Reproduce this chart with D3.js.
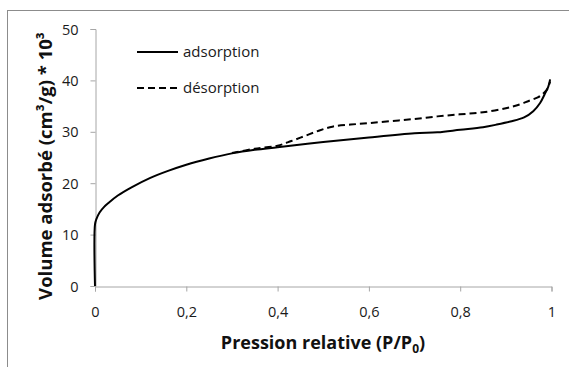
<!DOCTYPE html>
<html>
<head>
<meta charset="utf-8">
<script src="https://cdn.jsdelivr.net/npm/d3@7"></script>
<style>
  body { margin: 0; background: #fff; }
  svg { font-family: "Open Sans", "Noto Sans", sans-serif; }
</style>
</head>
<body>
<div id="chart"></div>
<script>
// adsorption branch (P/P0, volume)
const adsP = [0, 0, 0.003, 0.01, 0.02, 0.03, 0.05, 0.08, 0.12, 0.16, 0.2, 0.25, 0.3, 0.35, 0.4, 0.5, 0.6, 0.7, 0.75, 0.8, 0.85, 0.88, 0.91, 0.94, 0.96, 0.975, 0.985, 0.993, 0.997];
const adsV = [0, 12, 13, 14.3, 15.4, 16.2, 17.6, 19.2, 21, 22.4, 23.6, 24.8, 25.8, 26.5, 27, 28, 28.9, 29.7, 29.9, 30.4, 30.9, 31.4, 32, 32.8, 34, 35.6, 37.3, 38.8, 40.2];
// desorption branch
const desP = [0.3, 0.35, 0.4, 0.43, 0.46, 0.49, 0.52, 0.56, 0.6, 0.65, 0.7, 0.75, 0.8, 0.85, 0.9, 0.93, 0.95, 0.97, 0.98, 0.99, 0.997];
const desV = [25.9, 26.7, 27.3, 28.2, 29.2, 30.2, 31, 31.4, 31.7, 32.1, 32.5, 33, 33.4, 33.8, 34.6, 35.3, 36, 36.7, 37.3, 38.2, 39.8];
const xTicks = [0, 0.2, 0.4, 0.6, 0.8, 1];
const yTicks = [0, 10, 20, 30, 40, 50];
const seriesNames = ['adsorption', 'désorption'];

const W = 569, H = 367;
const svg = d3.select('#chart').append('svg').attr('width', W).attr('height', H);

// outer chart frame (cropped at right/bottom)
svg.append('rect').attr('x', 7.5).attr('y', 10.5).attr('width', 600).attr('height', 400)
  .attr('fill', 'none').attr('stroke', '#8c8c8c').attr('stroke-width', 1);

const x = d3.scaleLinear().domain([0, 1]).range([95, 551.5]);
const y = d3.scaleLinear().domain([0, 50]).range([286, 29]);

const axisColor = '#a6a6a6';

const yAxis = svg.append('g').attr('transform', 'translate(95.5,0)')
  .call(d3.axisLeft(y).tickValues(yTicks).tickSize(5).tickPadding(12).tickFormat(d3.format('d')));
const xAxis = svg.append('g').attr('transform', 'translate(0,286.5)')
  .call(d3.axisBottom(x).tickValues(xTicks).tickSize(5).tickPadding(15)
    .tickFormat(d => d === 0 || d === 1 ? String(d) : String(d).replace('.', ',')));

[xAxis, yAxis].forEach(a => {
  a.select('.domain').attr('stroke', axisColor);
  a.selectAll('.tick line').attr('stroke', axisColor);
  a.selectAll('.tick text').attr('fill', '#1a1a1a').style('font-size', '14.5px')
    .style('font-family', '"Open Sans", sans-serif');
});
yAxis.selectAll('.tick text').attr('dy', '0.35em');

const curve = d3.line().x(d => x(d[0])).y(d => y(d[1])).curve(d3.curveCatmullRom.alpha(0.5));

svg.append('path').datum(d3.zip(adsP, adsV)).attr('fill', 'none').attr('stroke', '#000')
  .attr('stroke-width', 2).attr('stroke-linejoin', 'round').attr('d', curve);

svg.append('path').datum(d3.zip(desP, desV)).attr('fill', 'none').attr('stroke', '#000')
  .attr('stroke-width', 2).attr('stroke-dasharray', '7,4').attr('d', curve);

// legend
const legend = svg.append('g');
seriesNames.forEach((name, i) => {
  const ly = 52 + i * 36;
  legend.append('line').attr('x1', 137).attr('x2', 178).attr('y1', ly).attr('y2', ly)
    .attr('stroke', '#000').attr('stroke-width', 2)
    .attr('stroke-dasharray', i === 1 ? '7,4' : null);
  legend.append('text').attr('x', 183).attr('y', ly).attr('dy', '0.35em')
    .style('font-size', '15px').attr('fill', '#1a1a1a').text(name);
});

// axis titles
const xt = svg.append('text').attr('x', 323).attr('y', 349).attr('text-anchor', 'middle')
  .style('font-size', '18px').style('font-weight', 'bold').attr('fill', '#111');
xt.append('tspan').text('Pression relative (P/P');
xt.append('tspan').text('0').style('font-size', '12px').attr('dy', 4);
xt.append('tspan').text(')').attr('dy', -4);

svg.append('text').attr('transform', 'translate(52,166) rotate(-90)').attr('text-anchor', 'middle')
  .style('font-size', '18.5px').style('font-weight', 'bold').attr('fill', '#111')
  .text('Volume adsorbé (cm³/g) * 10³');
</script>
</body>
</html>
